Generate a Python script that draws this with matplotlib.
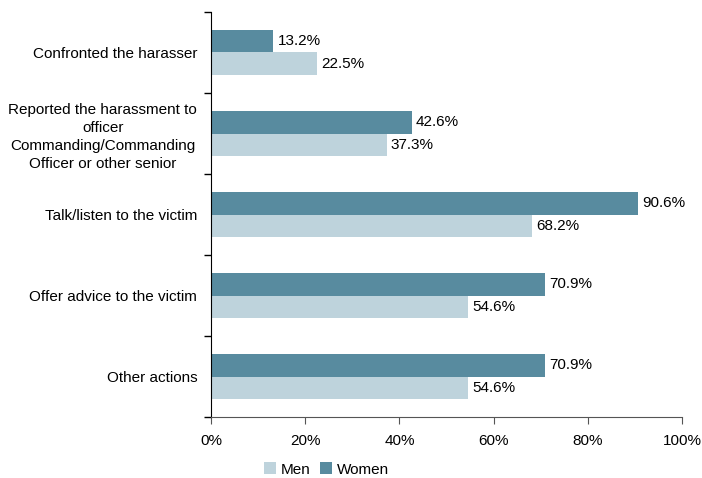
import numpy as np
from matplotlib import pyplot as plt

plt.rcParams['font.family'] = ['Liberation Sans', 'DejaVu Sans']

categories = [
    "Confronted the harasser",
    "Reported the harassment to\nofficer\nCommanding/Commanding\nOfficer or other senior",
    "Talk/listen to the victim",
    "Offer advice to the victim",
    "Other actions",
]
women = [13.2, 42.6, 90.6, 70.9, 70.9]
men = [22.5, 37.3, 68.2, 54.6, 54.6]

c_men = '#bed3dc'
c_women = '#588b9f'

fig = plt.figure(figsize=(7.02, 4.78), dpi=100)
ax = fig.add_axes([0.3006, 0.1276, 0.6709, 0.8473])

y = np.arange(len(categories))
h = 0.28
ax.barh(y + h / 2, men, height=h, color=c_men, label='Men')
ax.barh(y - h / 2, women, height=h, color=c_women, label='Women')

fs = 11
for yi, v in zip(y, women):
    ax.text(v + 0.9, yi - h / 2, f'{v:.1f}%', va='center', ha='left', fontsize=fs)
for yi, v in zip(y, men):
    ax.text(v + 0.9, yi + h / 2, f'{v:.1f}%', va='center', ha='left', fontsize=fs)

ax.set_xlim(0, 100)
ax.set_ylim(len(categories) - 0.5, -0.5)
ax.set_xticks(np.arange(0, 101, 20))
ax.set_xticklabels([f'{t}%' for t in range(0, 101, 20)], fontsize=fs)
ax.set_yticks(y)
ax.set_yticklabels(categories, fontsize=fs, multialignment='center', linespacing=1.35)
ax.set_yticks(np.arange(-0.5, len(categories)), minor=True)
ax.tick_params(axis='y', which='major', length=0, pad=10)
ax.tick_params(axis='y', which='minor', length=5, width=1, color='black')
ax.tick_params(axis='x', length=5, color='#555555', pad=7)

for s in ['top', 'right']:
    ax.spines[s].set_visible(False)
ax.spines['left'].set_color('black')
ax.spines['bottom'].set_color('#555555')

ax.legend(loc='upper center', bbox_to_anchor=(0.245, -0.078), ncol=2, frameon=False,
          fontsize=fs, handlelength=0.8, handleheight=0.8, handletextpad=0.3,
          columnspacing=0.6)

plt.savefig('out.png', dpi=100)
